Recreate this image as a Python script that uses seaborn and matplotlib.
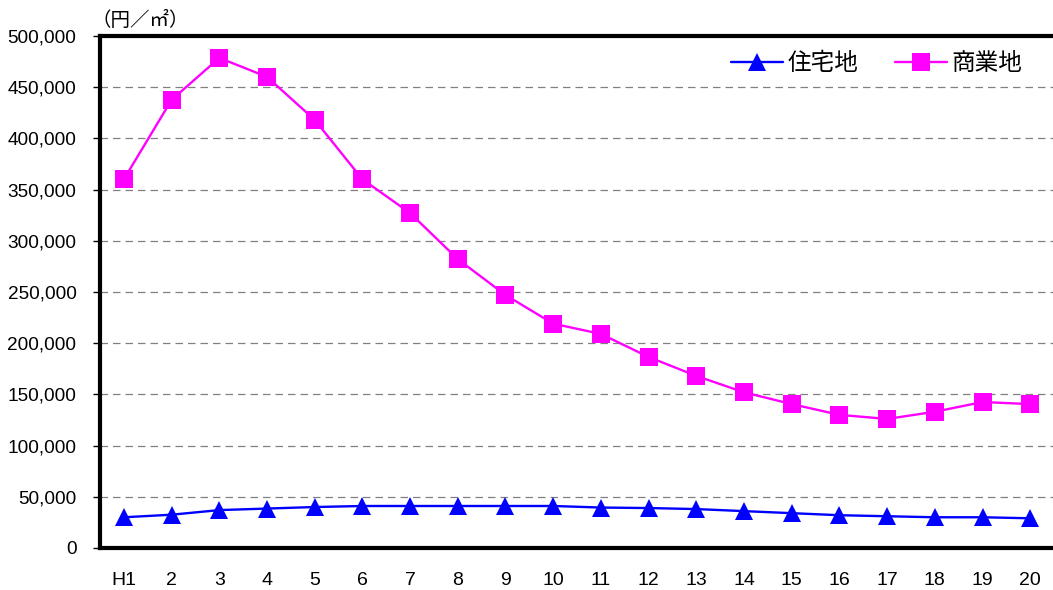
import pandas as pd
import matplotlib.pyplot as plt
import matplotlib.ticker as mticker
import seaborn as sns

years = ['H1', '2', '3', '4', '5', '6', '7', '8', '9', '10',
         '11', '12', '13', '14', '15', '16', '17', '18', '19', '20']
residential = [30000, 32500, 37000, 38500, 40000, 41000, 41000, 41000, 41000, 41000,
               39500, 39000, 38000, 36000, 34000, 32000, 31000, 30000, 30000, 29000]
commercial = [360000, 437500, 478500, 460000, 418000, 360000, 327000, 282000, 247000, 219000,
              209000, 186500, 168000, 152000, 140500, 130000, 126000, 133000, 142500, 140500]
series_names = ['住宅地', '商業地']

df = pd.DataFrame({
    'pos': list(range(len(years))) * 2,
    'value': residential + commercial,
    'type': [series_names[0]] * len(years) + [series_names[1]] * len(years),
})

sns.set_style('white')
plt.rcParams['font.family'] = ['Liberation Sans', 'Noto Sans CJK JP', 'DejaVu Sans']
plt.rcParams['text.color'] = 'black'
plt.rcParams['xtick.color'] = 'black'
plt.rcParams['ytick.color'] = 'black'

fig = plt.figure(figsize=(10.53, 5.90), dpi=100)
ax = fig.add_axes([0.095, 0.0712, 0.906, 0.868])

colors = {'住宅地': '#0000ff', '商業地': '#ff00ff'}
markers = {'住宅地': '^', '商業地': 's'}
sns.lineplot(data=df, x='pos', y='value', hue='type', style='type',
             palette=colors, markers=markers, dashes=False, ax=ax,
             linewidth=1.7, markersize=13, markeredgewidth=0)

ax.set_xlim(-0.5, len(years) - 0.5)
ax.set_ylim(0, 500000)
ax.set_xticks(range(len(years)))
ax.set_xticklabels(years)
ax.set_xticks([i + 0.5 for i in range(len(years) - 1)], minor=True)
ax.tick_params(axis='x', which='major', length=0, pad=17, labelsize=14)
ax.tick_params(axis='x', which='minor', direction='in', length=5, width=1, color='black')
ax.yaxis.set_major_locator(mticker.MultipleLocator(50000))
ax.yaxis.set_major_formatter(mticker.FuncFormatter(lambda v, p: f'{int(v):,}'))
ax.tick_params(axis='y', which='major', direction='out', length=5, width=1,
               color='black', labelsize=13.7, pad=12, left=True)
ax.grid(axis='y', linestyle=(0, (6, 4)), color='#808080', linewidth=0.9)
ax.set_axisbelow(True)

for side in ['left', 'bottom', 'top']:
    ax.spines[side].set_linewidth(3)
    ax.spines[side].set_color('black')
ax.spines['right'].set_visible(False)

ax.set_xlabel('')
ax.set_ylabel('')
fig.text(0.087, 0.965, '（円／㎡）', fontsize=14, ha='left', va='center',
         family=['Noto Sans CJK JP', 'DejaVu Sans'])

leg = ax.legend(loc='upper right', frameon=False, ncol=2,
                handlelength=2.2, columnspacing=1.55, handletextpad=0.2,
                bbox_to_anchor=(0.989, 1.01), prop={'family': ['Noto Sans CJK JP'], 'size': 17})

fig.savefig('out.png', dpi=100)
